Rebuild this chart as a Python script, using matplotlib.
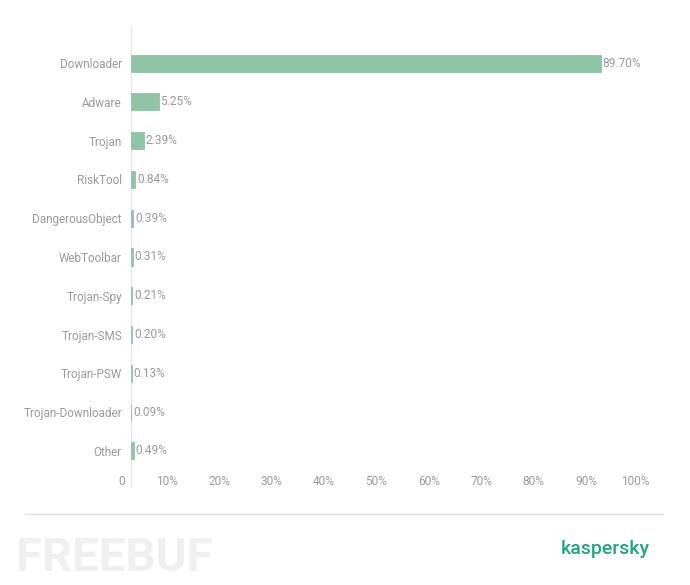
import matplotlib
matplotlib.use("Agg")
import matplotlib.pyplot as plt
import matplotlib.transforms as mtransforms

categories = ["Downloader", "Adware", "Trojan", "RiskTool", "DangerousObject", "WebToolbar",
              "Trojan-Spy", "Trojan-SMS", "Trojan-PSW", "Trojan-Downloader", "Other"]
values = [89.70, 5.25, 2.39, 0.84, 0.39, 0.31, 0.21, 0.20, 0.13, 0.09, 0.49]
xticks = [0, 10, 20, 30, 40, 50, 60, 70, 80, 90, 100]
xtick_labels = ["0", "10%", "20%", "30%", "40%", "50%", "60%", "70%", "80%", "90%", "100%"]

plt.rcParams['font.family'] = ['Roboto', 'DejaVu Sans']
grey = "#9a9a9a"
bar_color = "#8fc4a6"

W, H = 690, 585
fig = plt.figure(figsize=(W / 100, H / 100), dpi=100)
ax = fig.add_axes([131 / W, (H - 487) / H, (655 - 131) / W, (487 - 27) / H])

ypos = list(range(len(categories)))
ax.barh(ypos, values, height=0.44, color=bar_color, edgecolor=bar_color, linewidth=0.6)
for y, v in zip(ypos, values):
    ax.text(v + 0.35, y, "%.2f%%" % v, va="center", ha="left", fontsize=8.6, color=grey)

ax.set_xlim(0, 100)
ax.set_ylim(len(categories) - 1 + 0.93, -0.93)
ax.set_yticks(ypos)
ax.set_yticklabels(categories)
ax.set_xticks(xticks)
ax.set_xticklabels(xtick_labels)
ax.tick_params(axis="y", length=0, pad=6.5, labelsize=8.5, labelcolor=grey)
ax.tick_params(axis="x", length=0, pad=-8.3, labelsize=8.6, labelcolor=grey)

offset = mtransforms.ScaledTranslation(-4 / 72, 0, fig.dpi_scale_trans)
for lab in ax.get_xticklabels():
    lab.set_horizontalalignment("right")
    lab.set_transform(lab.get_transform() + offset)

for side in ["top", "right", "bottom"]:
    ax.spines[side].set_visible(False)
ax.spines["left"].set_color("#e6e6e6")
ax.spines["left"].set_linewidth(1)
ax.spines["left"].set_zorder(0.5)

# footer
fig.add_artist(plt.Line2D([25 / W, 663 / W], [(H - 514) / H, (H - 514) / H],
                          color="#e0e0e0", linewidth=1))
fig.text(650 / W, (H - 549) / H, "kaspersky", ha="right", va="center",
         fontsize=14, color="#1fa583", fontweight="medium")
fig.text(16 / W, (H - 558) / H, "FREEBUF", ha="left", va="center",
         fontsize=34, color="#efefef", fontweight="bold")

fig.savefig("out.png", dpi=100)
